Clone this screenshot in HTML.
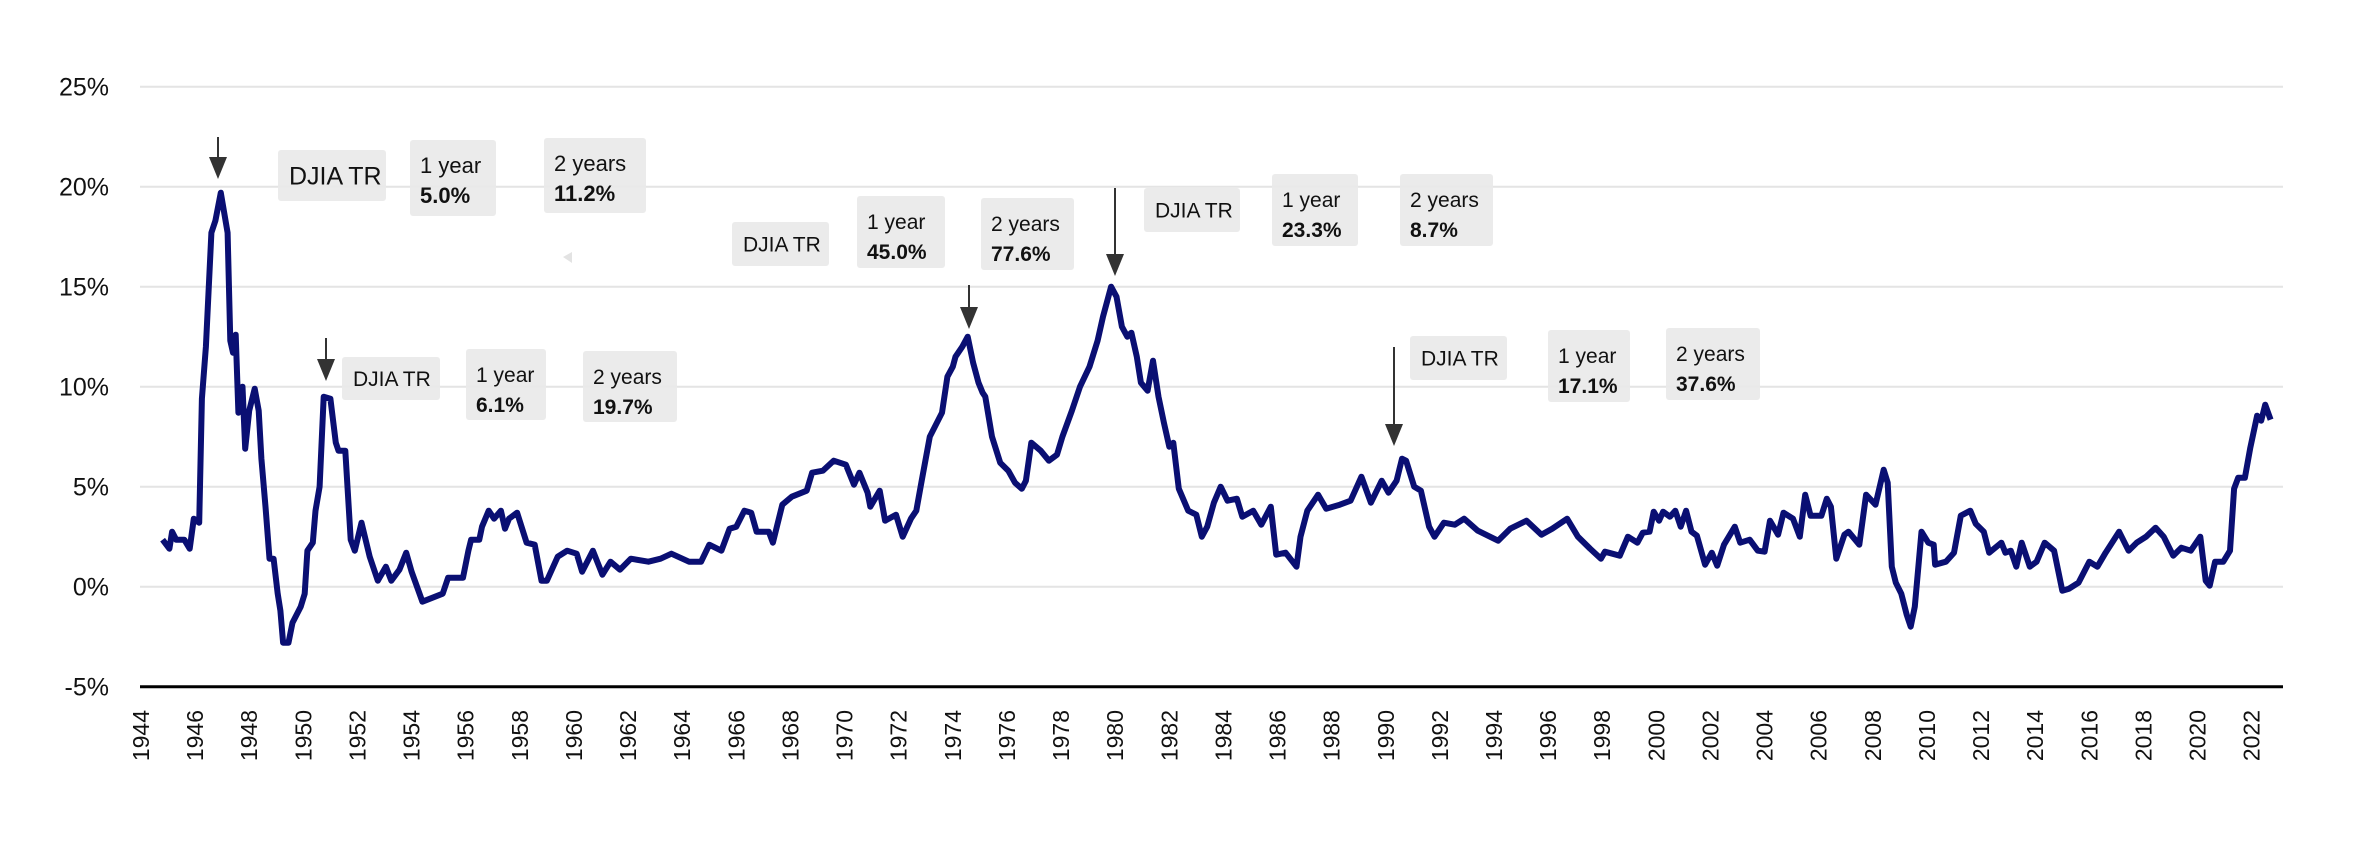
<!DOCTYPE html>
<html><head><meta charset="utf-8"><style>
html,body{margin:0;padding:0;background:#fff;}
svg{display:block;font-family:"Liberation Sans",sans-serif;}
</style></head><body>
<svg id="chart" width="2374" height="846" viewBox="0 0 2374 846">
<g id="grid"></g>
<g id="ylabels"></g>
<g id="xlabels"></g>
<g id="annot"></g>
<path id="line" fill="none" stroke="#0a0f73" stroke-width="6" stroke-linejoin="round"></path>
<line x1="140" x2="2283" y1="686.7" y2="686.7" stroke="#000" stroke-width="3"></line>
</svg>
<script>
const yTicks = [-5, 0, 5, 10, 15, 20, 25];
const xTicks = [1944,1946,1948,1950,1952,1954,1956,1958,1960,1962,1964,1966,1968,1970,1972,1974,1976,1978,1980,1982,1984,1986,1988,1990,1992,1994,1996,1998,2000,2002,2004,2006,2008,2010,2012,2014,2016,2018,2020,2022];
const dates = [1944.8,1945.05,1945.15,1945.3,1945.6,1945.8,1945.95,1946.15,1946.25,1946.4,1946.6,1946.75,1946.95,1947.2,1947.3,1947.4,1947.5,1947.6,1947.75,1947.85,1948.0,1948.2,1948.35,1948.45,1948.6,1948.75,1948.9,1949.05,1949.15,1949.25,1949.45,1949.6,1949.9,1950.05,1950.15,1950.35,1950.45,1950.6,1950.75,1951.0,1951.2,1951.3,1951.55,1951.75,1951.9,1952.15,1952.45,1952.75,1953.05,1953.25,1953.55,1953.8,1954.0,1954.4,1955.15,1955.35,1955.9,1956.1,1956.2,1956.5,1956.6,1956.85,1957.05,1957.3,1957.45,1957.6,1957.9,1958.25,1958.55,1958.8,1959.0,1959.4,1959.75,1960.1,1960.3,1960.7,1961.05,1961.35,1961.7,1962.1,1962.75,1963.2,1963.6,1964.25,1964.7,1965.0,1965.45,1965.75,1966.0,1966.3,1966.55,1966.75,1967.2,1967.35,1967.7,1968.05,1968.6,1968.8,1969.2,1969.6,1970.05,1970.35,1970.55,1970.85,1970.95,1971.3,1971.5,1971.9,1972.15,1972.45,1972.65,1972.85,1973.15,1973.6,1973.8,1974.0,1974.1,1974.35,1974.55,1974.75,1974.95,1975.1,1975.2,1975.45,1975.75,1976.05,1976.3,1976.55,1976.7,1976.9,1977.25,1977.55,1977.85,1978.05,1978.4,1978.7,1979.05,1979.35,1979.55,1979.85,1980.05,1980.25,1980.45,1980.6,1980.8,1980.95,1981.2,1981.4,1981.6,1981.8,1982.0,1982.15,1982.35,1982.7,1983.0,1983.2,1983.4,1983.65,1983.9,1984.15,1984.5,1984.7,1985.1,1985.4,1985.75,1985.95,1986.3,1986.7,1986.85,1987.1,1987.5,1987.8,1988.3,1988.7,1989.1,1989.45,1989.85,1990.1,1990.4,1990.6,1990.75,1991.05,1991.3,1991.6,1991.8,1992.15,1992.55,1992.9,1993.4,1994.15,1994.6,1995.2,1995.75,1996.15,1996.7,1997.1,1997.55,1997.95,1998.1,1998.65,1998.95,1999.3,1999.5,1999.75,1999.9,2000.1,2000.25,2000.5,2000.7,2000.9,2001.1,2001.3,2001.5,2001.8,2002.05,2002.25,2002.5,2002.9,2003.1,2003.45,2003.75,2004.0,2004.2,2004.5,2004.7,2005.05,2005.3,2005.5,2005.7,2006.1,2006.3,2006.45,2006.65,2006.95,2007.1,2007.5,2007.75,2008.1,2008.4,2008.55,2008.7,2008.85,2009.05,2009.25,2009.4,2009.55,2009.8,2010.05,2010.25,2010.3,2010.7,2011.0,2011.25,2011.6,2011.8,2012.1,2012.3,2012.75,2012.9,2013.1,2013.3,2013.5,2013.8,2014.05,2014.35,2014.7,2015.0,2015.25,2015.6,2016.0,2016.3,2016.6,2017.1,2017.45,2017.75,2018.1,2018.45,2018.75,2019.1,2019.4,2019.75,2020.1,2020.3,2020.45,2020.65,2020.95,2021.2,2021.35,2021.5,2021.75,2021.95,2022.2,2022.35,2022.5,2022.7];
const yields = [2.35,1.9,2.75,2.35,2.35,1.9,3.4,3.2,9.4,12,17.7,18.3,19.7,17.7,12.3,11.7,12.6,8.7,10,6.9,8.8,9.9,8.8,6.4,4.0,1.4,1.4,-0.35,-1.2,-2.8,-2.8,-1.8,-1.0,-0.35,1.8,2.2,3.8,5.0,9.5,9.4,7.2,6.8,6.8,2.35,1.8,3.2,1.5,0.3,1.0,0.3,0.85,1.7,0.75,-0.75,-0.35,0.45,0.45,1.8,2.35,2.35,3.0,3.8,3.4,3.8,2.9,3.4,3.7,2.2,2.1,0.3,0.3,1.5,1.8,1.65,0.75,1.8,0.6,1.25,0.85,1.4,1.25,1.4,1.65,1.25,1.25,2.1,1.8,2.9,3.0,3.8,3.7,2.75,2.75,2.2,4.1,4.5,4.8,5.7,5.8,6.3,6.1,5.1,5.7,4.7,4.0,4.8,3.3,3.6,2.5,3.4,3.8,5.3,7.5,8.7,10.5,11.0,11.5,12.0,12.5,11.2,10.2,9.7,9.5,7.5,6.2,5.8,5.2,4.9,5.3,7.2,6.8,6.3,6.6,7.5,8.8,10.0,11.0,12.3,13.5,15.0,14.5,13.0,12.5,12.7,11.5,10.2,9.8,11.3,9.5,8.2,7.0,7.2,4.9,3.8,3.6,2.5,3.0,4.2,5.0,4.3,4.4,3.5,3.8,3.1,4.0,1.6,1.7,1.0,2.5,3.8,4.6,3.9,4.1,4.3,5.5,4.2,5.3,4.7,5.3,6.4,6.3,5.0,4.8,3.0,2.5,3.2,3.1,3.4,2.8,2.3,2.9,3.3,2.6,2.9,3.4,2.5,1.9,1.4,1.75,1.55,2.5,2.2,2.7,2.75,3.75,3.3,3.75,3.5,3.8,3.0,3.8,2.75,2.55,1.1,1.7,1.05,2.1,3.0,2.2,2.35,1.8,1.75,3.3,2.6,3.7,3.4,2.5,4.6,3.55,3.55,4.4,4.0,1.4,2.6,2.75,2.1,4.6,4.1,5.85,5.2,1.0,0.2,-0.35,-1.4,-2.0,-1.0,2.75,2.2,2.1,1.1,1.25,1.7,3.55,3.8,3.15,2.75,1.7,2.2,1.7,1.8,1.0,2.2,1.0,1.25,2.2,1.8,-0.2,-0.1,0.2,1.25,1.0,1.7,2.75,1.8,2.2,2.5,2.95,2.5,1.55,1.95,1.8,2.5,0.3,0.05,1.25,1.25,1.8,4.9,5.45,5.45,6.95,8.55,8.3,9.1,8.35];

const NS = 'http://www.w3.org/2000/svg';
function xScale(yr){ return 141 + (yr - 1944) * 27.06; }
function yScale(v){ return 586.7 - v * 20; }
function mk(tag, attrs, parent){ const e = document.createElementNS(NS, tag); for (const k in attrs) e.setAttribute(k, attrs[k]); parent.appendChild(e); return e; }

const grid = document.getElementById('grid');
const yl = document.getElementById('ylabels');
yTicks.forEach(v => {
  if (v !== -5) {
    const gl = mk('line', {x1:140, x2:2283, y1:yScale(v), y2:yScale(v), stroke:'#e4e4e4', 'stroke-width':2}, grid);
    
    
  }
  const t = mk('text', {x:109, y:yScale(v)+9, 'text-anchor':'end', 'font-size':25, fill:'#111'}, yl);
  t.textContent = v + '%';
  
  
});
const xl = document.getElementById('xlabels');
xTicks.forEach(yr => {
  const x = xScale(yr) + 8;
  const t = mk('text', {x:x, y:710, 'text-anchor':'end', 'font-size':23, fill:'#111', transform:'rotate(-90 '+x+' 710)'}, xl);
  t.textContent = yr;
  
  
});
let d = '';
dates.forEach((yr, i) => { d += (i ? 'L' : 'M') + xScale(yr).toFixed(1) + ' ' + yScale(yields[i]).toFixed(1); });
document.getElementById('line').setAttribute('d', d);

const an = document.getElementById('annot');
function box(x, y, w, h, l1, l2, fs, name){
  const g = mk('g', {}, an);
  
  
  mk('rect', {x:x, y:y, width:w, height:h, rx:3, fill:'#e9e9e9', 'fill-opacity':0.9}, g);
  if (l2) {
    const a = mk('text', {x:x+10, y:y+33, 'font-size':fs, fill:'#111'}, g); a.textContent = l1;
    const b = mk('text', {x:x+10, y:y+63, 'font-size':fs, 'font-weight':'bold', fill:'#111'}, g); b.textContent = l2;
  } else {
    const a = mk('text', {x:x+11, y:y+h/2+fs*0.36, 'font-size':fs, fill:'#111'}, g); a.textContent = l1;
  }
}
function arrow(x, y1, y2, name){
  const g = mk('g', {}, an);
  
  
  mk('line', {x1:x, x2:x, y1:y1, y2:y2-20, stroke:'#333', 'stroke-width':2}, g);
  mk('polygon', {points:(x-9)+','+(y2-22)+' '+(x+9)+','+(y2-22)+' '+x+','+y2, fill:'#333'}, g);
}
box(278,150,108,51,'DJIA TR',null,25,'label-djia-1947');
box(410,140,86,76,'1 year','5.0%',22,'label-1yr-1947');
box(544,138,102,75,'2 years','11.2%',22,'label-2yr-1947');
box(342,357,98,43,'DJIA TR',null,21,'label-djia-1951');
box(466,349,80,71,'1 year','6.1%',21,'label-1yr-1951');
box(583,351,94,71,'2 years','19.7%',21,'label-2yr-1951');
box(732,222,97,44,'DJIA TR',null,21,'label-djia-1974');
box(857,196,88,72,'1 year','45.0%',21,'label-1yr-1974');
box(981,198,93,72,'2 years','77.6%',21,'label-2yr-1974');
box(1144,188,96,44,'DJIA TR',null,21,'label-djia-1980');
box(1272,174,86,72,'1 year','23.3%',21,'label-1yr-1980');
box(1400,174,93,72,'2 years','8.7%',21,'label-2yr-1980');
box(1410,336,97,44,'DJIA TR',null,21,'label-djia-1990');
box(1548,330,82,72,'1 year','17.1%',21,'label-1yr-1990');
box(1666,328,94,72,'2 years','37.6%',21,'label-2yr-1990');
arrow(218,137,179,'arrow-1947');
arrow(326,338,381,'arrow-1951');
arrow(969,285,329,'arrow-1974');
arrow(1115,188,276,'arrow-1980');
arrow(1394,347,446,'arrow-1990');
const tri = mk('polygon', {points:'563,257 572,252 572,263', fill:'#e3e3e3'}, an);


</script>
</body></html>
